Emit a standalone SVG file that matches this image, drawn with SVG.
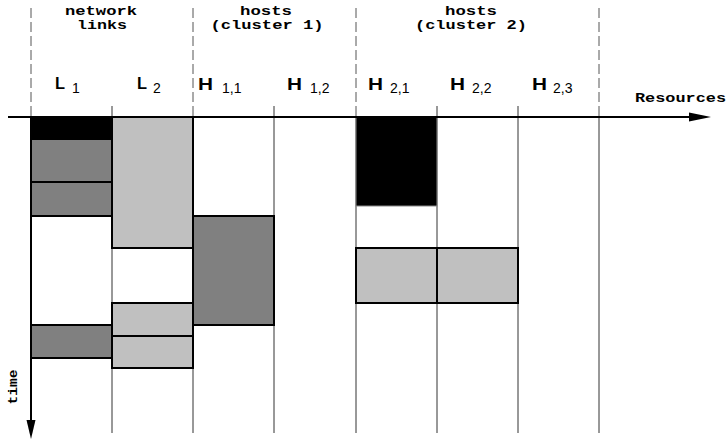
<svg xmlns="http://www.w3.org/2000/svg" width="728" height="440" viewBox="0 0 728 440">
<style>
.mono{font-family:"Liberation Mono","Courier New",monospace;font-weight:bold;font-size:13px;fill:#000}
.lab{font-family:"Liberation Sans",Arial,sans-serif;font-weight:bold;font-size:16px;fill:#000}
.sub{font-family:"Liberation Sans",Arial,sans-serif;font-size:14px;fill:#000}
.dash{stroke:#555;stroke-width:1;stroke-dasharray:10 4;fill:none}
.grid{stroke:#333;stroke-width:1;fill:none}
.blk{fill:#000;stroke:#000;stroke-width:1}
.dk{fill:#808080;stroke:#000;stroke-width:2}
.lt{fill:#c0c0c0;stroke:#000;stroke-width:2}
</style>
<rect width="728" height="440" fill="#fff"/>
<g id="grid">
<line class="dash" x1="31" y1="8" x2="31" y2="117"/>
<line class="dash" x1="193" y1="8" x2="193" y2="117"/>
<line class="dash" x1="356" y1="8" x2="356" y2="117"/>
<line class="dash" x1="599" y1="8" x2="599" y2="117"/>
<line class="grid" x1="112" y1="106" x2="112" y2="433"/>
<line class="grid" x1="193" y1="117" x2="193" y2="433"/>
<line class="grid" x1="274" y1="106" x2="274" y2="433"/>
<line class="grid" x1="356" y1="117" x2="356" y2="433" stroke="#666"/>
<line class="grid" x1="437" y1="106" x2="437" y2="433"/>
<line class="grid" x1="518" y1="106" x2="518" y2="433"/>
<line class="grid" x1="599" y1="117" x2="599" y2="433" stroke="#666"/>
</g>
<g id="tasks">
<rect class="blk" x="31" y="117" width="81" height="22"/>
<rect class="dk" x="31" y="139" width="81" height="43"/>
<rect class="dk" x="31" y="182" width="81" height="34"/>
<rect class="dk" x="31" y="325" width="81" height="33"/>
<rect class="lt" x="112" y="117" width="81" height="131"/>
<rect class="lt" x="112" y="303" width="81" height="33"/>
<rect class="lt" x="112" y="336" width="81" height="32"/>
<rect class="dk" x="193" y="216" width="81" height="109"/>
<rect x="356" y="117" width="81" height="89" fill="#000" stroke="#888" stroke-width="1"/>
<rect class="lt" x="356" y="248" width="81" height="55"/>
<rect class="lt" x="437" y="248" width="81" height="55"/>
</g>
<g id="axes">
<line x1="8" y1="117" x2="690" y2="117" stroke="#000" stroke-width="2"/>
<polygon points="689,112.5 711,117 689,121.5" fill="#000"/>
<line x1="31" y1="117" x2="31" y2="421" stroke="#000" stroke-width="2"/>
<polygon points="26.5,420 31,439 35.5,420" fill="#000"/>
</g>
<g id="headers">
<text class="mono" x="101" y="15" text-anchor="middle" textLength="72" lengthAdjust="spacingAndGlyphs">network</text>
<text class="mono" x="102" y="28.5" text-anchor="middle" textLength="50" lengthAdjust="spacingAndGlyphs">links</text>
<text class="mono" x="266" y="15" text-anchor="middle" textLength="52" lengthAdjust="spacingAndGlyphs">hosts</text>
<text class="mono" x="267" y="28.5" text-anchor="middle" textLength="113" lengthAdjust="spacingAndGlyphs">(cluster 1)</text>
<text class="mono" x="471" y="15" text-anchor="middle" textLength="52" lengthAdjust="spacingAndGlyphs">hosts</text>
<text class="mono" x="471" y="28.5" text-anchor="middle" textLength="112" lengthAdjust="spacingAndGlyphs">(cluster 2)</text>
<text class="mono" x="635" y="102" textLength="91" lengthAdjust="spacingAndGlyphs">Resources</text>
<text class="mono" transform="translate(17,387) rotate(-90)" text-anchor="middle" textLength="35" lengthAdjust="spacingAndGlyphs">time</text>
</g>
<g id="labels">
<text class="lab" x="55" y="89" textLength="10" lengthAdjust="spacingAndGlyphs">L</text><text class="sub" x="72" y="93">1</text>
<text class="lab" x="137" y="89" textLength="10" lengthAdjust="spacingAndGlyphs">L</text><text class="sub" x="153" y="93">2</text>
<text class="lab" x="198" y="90" textLength="15" lengthAdjust="spacingAndGlyphs">H</text><text class="sub" x="222" y="93">1,1</text>
<text class="lab" x="287" y="90" textLength="15" lengthAdjust="spacingAndGlyphs">H</text><text class="sub" x="310" y="93">1,2</text>
<text class="lab" x="368" y="90" textLength="15" lengthAdjust="spacingAndGlyphs">H</text><text class="sub" x="390" y="93">2,1</text>
<text class="lab" x="450" y="90" textLength="15" lengthAdjust="spacingAndGlyphs">H</text><text class="sub" x="472" y="93">2,2</text>
<text class="lab" x="532" y="90" textLength="15" lengthAdjust="spacingAndGlyphs">H</text><text class="sub" x="553" y="93">2,3</text>
</g>
</svg>
